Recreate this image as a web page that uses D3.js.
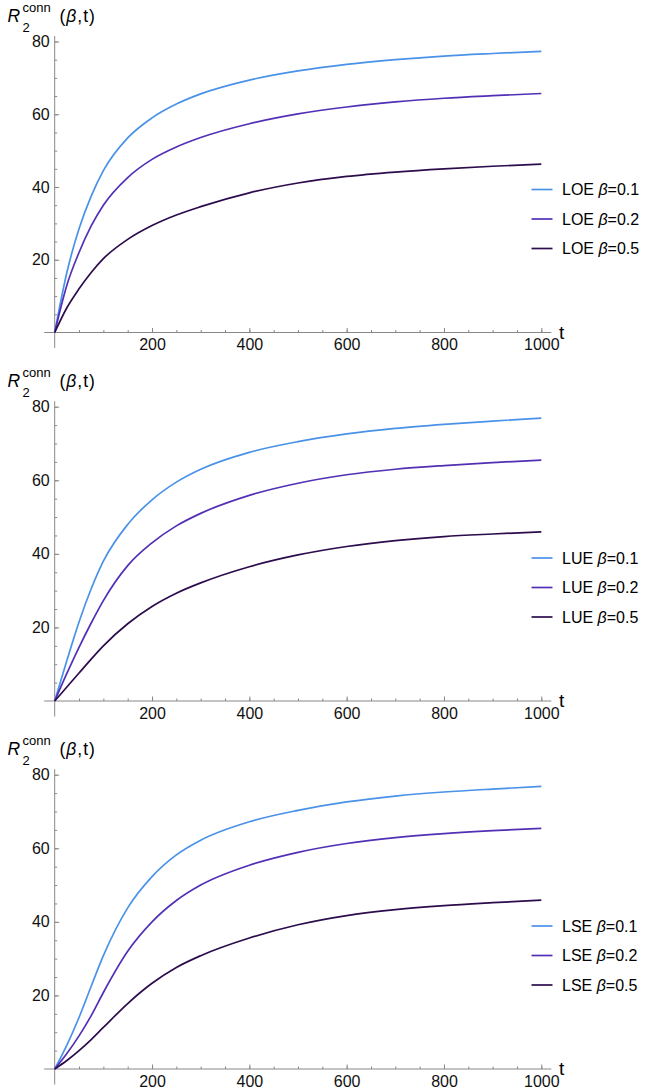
<!DOCTYPE html>
<html>
<head>
<meta charset="utf-8">
<script src="https://cdnjs.cloudflare.com/ajax/libs/d3/7.8.5/d3.min.js"></script>
<style>
body { margin: 0; background: #fff; }
svg { display: block; font-family: "Liberation Sans", Arial, Helvetica, sans-serif; }
.tick text { font-size: 16px; fill: #111; }
</style>
</head>
<body>
<svg width="645" height="1092"></svg>
<script>
// sample times
var times = [0, 25, 50, 75, 100, 150, 200, 250, 300, 400, 500, 600, 700, 800, 900, 1000];

// LOE
var loe01 = [0, 16.5, 28.5, 37.5, 44.5, 53.5, 59.0, 62.8, 65.6, 69.4, 71.9, 73.7, 75.0, 76.0, 76.7, 77.3];
var loe02 = [0, 13.0, 22.0, 29.3, 35.0, 42.6, 47.6, 51.0, 53.6, 57.4, 60.1, 62.0, 63.4, 64.4, 65.1, 65.7];
var loe05 = [0, 6.8, 12.0, 16.5, 20.3, 25.6, 29.4, 32.3, 34.6, 38.4, 41.1, 42.9, 44.1, 45.0, 45.7, 46.3];
// LUE
var lue01 = [0, 11.0, 21.5, 30.5, 38.0, 48.0, 54.7, 59.5, 63.0, 67.6, 70.5, 72.6, 74.1, 75.2, 76.1, 76.9];
var lue02 = [0, 7.5, 14.6, 21.2, 27.3, 36.8, 43.0, 47.6, 51.0, 55.9, 59.2, 61.5, 63.0, 64.0, 64.8, 65.5];
var lue05 = [0, 3.8, 7.6, 11.4, 15.0, 21.0, 25.7, 29.3, 32.1, 36.5, 39.7, 42.0, 43.6, 44.7, 45.4, 46.0];
// LSE
var lse01 = [0, 6.5, 14.0, 22.5, 30.8, 43.8, 52.3, 58.2, 62.2, 67.2, 70.3, 72.6, 74.2, 75.3, 76.1, 76.8];
var lse02 = [0, 4.2, 9.0, 14.5, 20.8, 32.0, 40.0, 45.8, 50.0, 55.4, 58.9, 61.3, 62.9, 64.0, 64.8, 65.4];
var lse05 = [0, 2.3, 5.0, 8.0, 11.3, 17.8, 23.3, 27.6, 30.8, 35.6, 39.2, 41.7, 43.3, 44.4, 45.2, 45.9];

var betas = ["0.1", "0.2", "0.5"];
var colors = ["#4a92e8", "#5230b6", "#2c0c4c"];
var xTicks = [200, 400, 600, 800, 1000];
var yTicks = [20, 40, 60, 80];

var panels = [
    { name: "LOE", series: [loe01, loe02, loe05], top: 41.5, bottom: 332.5 },
    { name: "LUE", series: [lue01, lue02, lue05], top: 406.7, bottom: 701 },
    { name: "LSE", series: [lse01, lse02, lse05], top: 774.7, bottom: 1069 }
];

var svg = d3.select("svg");

var x = d3.scaleLinear().domain([0, 1000]).range([54.7, 541.3]);

function grey(a) {
    a.select(".domain").remove();
    a.selectAll("line").attr("stroke", "#888");
}

panels.forEach(function(p) {
    var y = d3.scaleLinear().domain([0, 80]).range([p.bottom, p.top]);
    var g = svg.append("g");

    // minor ticks
    g.append("g")
        .attr("transform", "translate(0," + y(0) + ")")
        .call(d3.axisBottom(x).tickValues(d3.range(50, 1001, 50)).tickSize(-2.5).tickFormat(""))
        .call(grey);
    g.append("g")
        .attr("transform", "translate(" + x(0) + ",0)")
        .call(d3.axisLeft(y).tickValues(d3.range(5, 81, 5)).tickSize(-2.5).tickFormat(""))
        .call(grey);

    // major ticks
    g.append("g")
        .attr("transform", "translate(0," + y(0) + ")")
        .call(d3.axisBottom(x).tickValues(xTicks).tickSize(-4.5).tickPadding(6.5).tickFormat(d3.format("d")))
        .call(grey);
    g.append("g")
        .attr("transform", "translate(" + x(0) + ",0)")
        .call(d3.axisLeft(y).tickValues(yTicks).tickSize(-4.5).tickPadding(5).tickFormat(d3.format("d")))
        .call(grey);

    // axis lines
    g.append("line")
        .attr("x1", x(0) - 10.5).attr("x2", x(1000) + 10)
        .attr("y1", y(0)).attr("y2", y(0))
        .attr("stroke", "#888").attr("stroke-width", 1);
    g.append("line")
        .attr("x1", x(0)).attr("x2", x(0))
        .attr("y1", y(80) - 5.5).attr("y2", y(0) + 15.5)
        .attr("stroke", "#888").attr("stroke-width", 1);

    // curves
    var line = d3.line()
        .x(function(d, i) { return x(times[i]); })
        .y(function(d) { return y(d); })
        .curve(d3.curveMonotoneX);

    p.series.forEach(function(s, k) {
        g.append("path")
            .attr("d", line(s))
            .attr("fill", "none")
            .attr("stroke", colors[k])
            .attr("stroke-width", 1.7);
    });

    // title
    var ty = p.top - 20;
    g.append("text").attr("x", 7.5).attr("y", ty).attr("font-size", 17.5)
        .attr("font-style", "italic").text("R");
    g.append("text").attr("x", 22.5).attr("y", ty + 10).attr("font-size", 13).text("2");
    g.append("text").attr("x", 22.5).attr("y", ty - 10).attr("font-size", 13).text("conn");
    var par = g.append("text").attr("x", 59.5).attr("y", ty).attr("font-size", 17.5)
        .attr("letter-spacing", 1);
    par.append("tspan").text("(");
    par.append("tspan").attr("font-style", "italic").text("β");
    par.append("tspan").text(",t)");

    // axis label
    g.append("text").attr("x", 559).attr("y", y(0) + 6).attr("font-size", 19).text("t");

    // legend
    var lg = g.append("g");
    var rows = [y(0) - 143, y(0) - 113.5, y(0) - 84];
    betas.forEach(function(b, k) {
        lg.append("line")
            .attr("x1", 531.5).attr("x2", 552.5)
            .attr("y1", rows[k]).attr("y2", rows[k])
            .attr("stroke", colors[k]).attr("stroke-width", 1.7);
        var t = lg.append("text").attr("x", 562).attr("y", rows[k] + 5.8).attr("font-size", 16);
        t.append("tspan").text(p.name + " ");
        t.append("tspan").attr("font-style", "italic").text("β");
        t.append("tspan").text("=" + b);
    });
});
</script>
</body>
</html>
